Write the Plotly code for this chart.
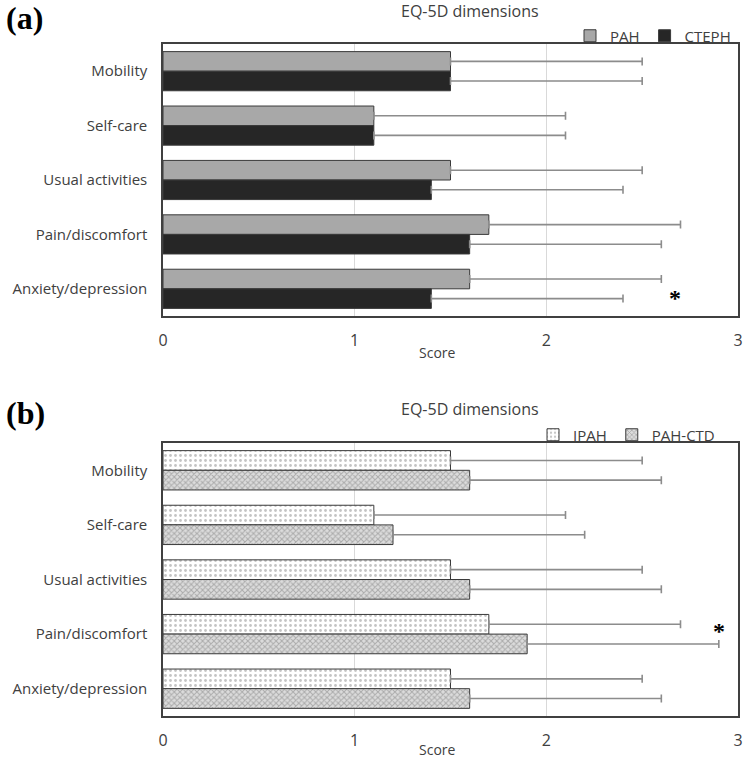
import plotly.graph_objects as go

categories = ["Mobility", "Self-care", "Usual activities", "Pain/discomfort", "Anxiety/depression"]
pah = [1.5, 1.1, 1.5, 1.7, 1.6]
pah_sd = [1.0, 1.0, 1.0, 1.0, 1.0]
cteph = [1.5, 1.1, 1.4, 1.6, 1.4]
cteph_sd = [1.0, 1.0, 1.0, 1.0, 1.0]
ipah = [1.5, 1.1, 1.5, 1.7, 1.5]
ipah_sd = [1.0, 1.0, 1.0, 1.0, 1.0]
pahctd = [1.6, 1.2, 1.6, 1.9, 1.6]
pahctd_sd = [1.0, 1.0, 1.0, 1.0, 1.0]
x_ticks = [0, 1, 2, 3]

W, H = 744, 758
x0px, x1px = 163, 738
top_px = (44, 316)
bot_px = (443, 716)

def ydom(p):
    return [1 - p[1] / H, 1 - p[0] / H]

err_col = "#8c8c8c"
edge = "#3a3a3a"
FONT = "Open Sans"
txt_col = "#404040"

def err(sd):
    return dict(type="data", symmetric=False, array=sd, arrayminus=[0] * len(sd),
                color=err_col, thickness=1.6, width=4)

fig = go.Figure()
fig.add_trace(go.Bar(y=categories, x=pah, name="PAH", orientation="h",
                     marker=dict(color="#a8a8a8", line=dict(color=edge, width=1)),
                     error_x=err(pah_sd), xaxis="x", yaxis="y", legend="legend"))
fig.add_trace(go.Bar(y=categories, x=cteph, name="CTEPH", orientation="h",
                     marker=dict(color="#262626", line=dict(color=edge, width=1)),
                     error_x=err(cteph_sd), xaxis="x", yaxis="y", legend="legend"))
fig.add_trace(go.Bar(y=categories, x=ipah, name="IPAH", orientation="h",
                     marker=dict(color="white", line=dict(color=edge, width=1),
                                 pattern=dict(shape=".", fgcolor="#8a8a8a", bgcolor="white",
                                              size=5, solidity=0.25, fillmode="overlay")),
                     error_x=err(ipah_sd), xaxis="x2", yaxis="y2", legend="legend2"))
fig.add_trace(go.Bar(y=categories, x=pahctd, name="PAH-CTD", orientation="h",
                     marker=dict(color="#d8d8d8", line=dict(color=edge, width=1),
                                 pattern=dict(shape="x", fgcolor="#7a7a7a", bgcolor="#dcdcdc",
                                              size=4, solidity=0.45, fillmode="overlay")),
                     error_x=err(pahctd_sd), xaxis="x2", yaxis="y2", legend="legend2"))

xdom = [x0px / W, x1px / W]
axis_font = dict(family=FONT, size=15, color=txt_col)
xcommon = dict(range=[0, 3], tickvals=x_ticks, showgrid=True, gridcolor="#d9d9d9", gridwidth=1,
               zeroline=False, showline=True, linecolor="#404040", linewidth=1.5, mirror=True,
               tickfont=dict(family=FONT, size=16, color=txt_col), ticklabelstandoff=9,
               fixedrange=True, automargin=False)
ycommon = dict(autorange="reversed", showline=True, linecolor="#404040", linewidth=1.5, mirror=True,
               tickfont=axis_font, ticks="", ticklabelstandoff=11, fixedrange=True, automargin=False)

leg_font = dict(family=FONT, size=15, color=txt_col)
fig.update_layout(
    width=W, height=H, margin=dict(l=0, r=0, t=0, b=0),
    plot_bgcolor="white", paper_bgcolor="white",
    barmode="group", bargap=0.28, bargroupgap=0,
    xaxis=dict(domain=xdom, anchor="y", **xcommon),
    yaxis=dict(domain=ydom(top_px), anchor="x", **ycommon),
    xaxis2=dict(domain=xdom, anchor="y2", **xcommon),
    yaxis2=dict(domain=ydom(bot_px), anchor="x2", **ycommon),
    legend=dict(orientation="h", x=570 / W, y=1 - 36 / H, xanchor="left", yanchor="middle",
                font=leg_font, itemwidth=30, bgcolor="rgba(0,0,0,0)", traceorder="normal",
                entrywidth=0),
    legend2=dict(orientation="h", x=533 / W, y=1 - 435 / H, xanchor="left", yanchor="middle",
                 font=leg_font, itemwidth=30, bgcolor="rgba(0,0,0,0)", traceorder="normal",
                 entrywidth=0),
    showlegend=True,
)

ann = []
title_font = dict(family=FONT, size=16, color=txt_col)
ann.append(dict(text="EQ-5D dimensions", x=470 / W, y=1 - 11 / H, xref="paper", yref="paper",
                showarrow=False, font=title_font, xanchor="center", yanchor="middle"))
ann.append(dict(text="EQ-5D dimensions", x=470 / W, y=1 - 409 / H, xref="paper", yref="paper",
                showarrow=False, font=title_font, xanchor="center", yanchor="middle"))
ann.append(dict(text="Score", x=437 / W, y=1 - 352 / H, xref="paper", yref="paper",
                showarrow=False, font=dict(family=FONT, size=14, color=txt_col),
                xanchor="center", yanchor="middle"))
ann.append(dict(text="Score", x=437 / W, y=1 - 749 / H, xref="paper", yref="paper",
                showarrow=False, font=dict(family=FONT, size=14, color=txt_col),
                xanchor="center", yanchor="middle"))
panel_font = dict(family="Liberation Serif", size=32, color="black")
ann.append(dict(text="<b>(a)</b>", x=4 / W, y=1 - 18 / H, xref="paper", yref="paper",
                showarrow=False, font=panel_font, xanchor="left", yanchor="middle"))
ann.append(dict(text="<b>(b)</b>", x=4 / W, y=1 - 413 / H, xref="paper", yref="paper",
                showarrow=False, font=panel_font, xanchor="left", yanchor="middle"))
ann.append(dict(text="<b>*</b>", x=2.67, y="Anxiety/depression", xref="x", yref="y", yshift=-9,
                showarrow=False, font=dict(family="Liberation Serif", size=24, color="black")))
ann.append(dict(text="<b>*</b>", x=2.9, y="Pain/discomfort", xref="x2", yref="y2", yshift=3,
                showarrow=False, font=dict(family="Liberation Serif", size=24, color="black")))
fig.update_layout(annotations=ann)

fig.write_html("out.html", config={"displayModeBar": False},
               post_script="document.body.style.margin='0px';document.body.style.overflow='hidden';")
